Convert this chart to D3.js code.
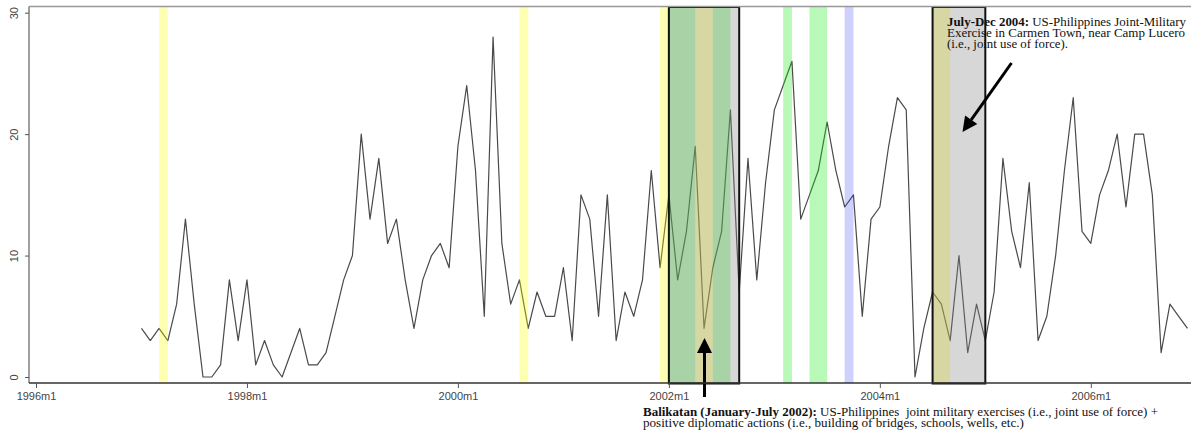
<!DOCTYPE html>
<html><head><meta charset="utf-8">
<script src="https://cdn.jsdelivr.net/npm/d3@7/dist/d3.min.js"></script>
<style>
html,body{margin:0;padding:0;background:#fff;}
svg{display:block;}
text{white-space:pre;}
</style></head>
<body>
<svg id="chart" width="1191" height="434"></svg>
<script>
// ---------- data ----------
const startMonth = "1997m1";
const counts = [
  4,3,4,3,6,13,6,0,0,1,8,3,            // 1997
  8,1,3,1,0,2,4,1,1,2,5,8,             // 1998
  10,20,13,18,11,13,8,4,8,10,11,9,     // 1999
  19,24,17,5,28,11,6,8,4,7,5,5,        // 2000
  9,3,15,13,5,15,3,7,5,8,17,9,         // 2001
  15,8,12,19,4,9,12,22,7,18,8,16,      // 2002
  22,24,26,13,15,17,21,17,14,15,5,13,  // 2003
  14,19,23,22,0,4,7,6,3,10,2,6,        // 2004
  3,7,18,12,9,16,3,5,10,17,23,12,      // 2005
  11,15,17,20,14,20,20,15,2,6,5,4      // 2006
];
const xTickLabels = ["1996m1","1998m1","2000m1","2002m1","2004m1","2006m1"];
const yTickValues = [0,10,20,30];
const yellowBands = ["1997m3","2000m8","2001m12","2002m4","2002m5","2004m7","2004m8"];
const greenBands  = ["2002m1","2002m2","2002m3","2002m6","2002m7","2003m2","2003m5","2003m6"];
const blueBands   = ["2003m9"];
const boxStarts   = ["2002m1","2004m7"];
const boxEnds     = ["2002m8","2004m12"];
const noteTop = [
  ["July-Dec 2004:", " US-Philippines Joint-Military"],
  ["", "Exercise in Carmen Town, near Camp Lucero"],
  ["", "(i.e., joint use of force)."]
];
const noteBottom = [
  ["Balikatan (January-July 2002):", " US-Philippines  joint military exercises (i.e., joint use of force) +"],
  ["", "positive diplomatic actions (i.e., building of bridges, schools, wells, etc.)"]
];

// ---------- helpers ----------
function monthIndex(s){ const [y,m] = s.split("m").map(Number); return (y-1996)*12 + (m-1); }
const t0 = monthIndex(startMonth);
const series = counts.map((v,i)=>({t:t0+i, v}));

const svg = d3.select("#chart");
const frame = {left:29, right:1196, top:6.5, bottom:383};
const x = d3.scaleLinear().domain([0,120]).range([36, 1090.8]);
const y = d3.scaleLinear().domain([0,30]).range([377, 12.7]);

// ---------- line ----------
svg.append("path").datum(series)
  .attr("fill","none").attr("stroke","#4a4a4a").attr("stroke-width",1.2)
  .attr("stroke-linejoin","round")
  .attr("d", d3.line().x(d=>x(d.t)).y(d=>y(d.v)));

// ---------- bands ----------
function bands(list, color){
  svg.append("g").selectAll("rect").data(list).join("rect")
    .attr("x", d=>x(monthIndex(d)))
    .attr("width", d=>x(monthIndex(d)+1)-x(monthIndex(d)))
    .attr("y", frame.top).attr("height", frame.bottom-frame.top)
    .attr("fill", color);
}
bands(yellowBands, "rgba(255,255,0,0.3)");
bands(greenBands, "rgba(20,235,20,0.3)");
bands(blueBands, "rgba(40,40,255,0.22)");

const boxes = boxStarts.map((s,i)=>({a:monthIndex(s), b:monthIndex(boxEnds[i])+1}));
svg.append("g").selectAll("rect").data(boxes).join("rect")
  .attr("x", d=>x(d.a)).attr("width", d=>x(d.b)-x(d.a))
  .attr("y", frame.top+0.5).attr("height", frame.bottom-frame.top)
  .attr("fill","rgba(135,135,135,0.33)");

// ---------- annotations ----------
const serif = "'Liberation Serif','Times New Roman',serif";
function note(lines, x0, ys, widths){
  lines.forEach((ln,i)=>{
    const t = svg.append("text").attr("x",x0).attr("y",ys[i])
      .attr("font-family",serif).attr("font-size",11.5).attr("fill","#111")
      .attr("textLength", widths[i]).attr("lengthAdjust","spacingAndGlyphs");
    if (ln[0]) t.append("tspan").attr("font-weight","bold").text(ln[0]);
    t.append("tspan").text(ln[1]);
  });
}
note(noteTop, 947, [26, 37, 47.5], [239, 238, 121]);
note(noteBottom, 643, [415.5, 426.5], [515, 381]);

// box borders (drawn over text like reference)
svg.append("g").selectAll("rect").data(boxes).join("rect")
  .attr("x", d=>x(d.a)).attr("width", d=>x(d.b)-x(d.a))
  .attr("y", frame.top+0.5).attr("height", frame.bottom-frame.top)
  .attr("fill","none").attr("stroke","#111").attr("stroke-width",2);

// arrows
function arrow(x1,y1,x2,y2){
  const ang = Math.atan2(y2-y1, x2-x1), L=15, W=7.5;
  const bx = x2 - L*Math.cos(ang), by = y2 - L*Math.sin(ang);
  svg.append("line").attr("x1",x1).attr("y1",y1).attr("x2",bx).attr("y2",by)
    .attr("stroke","#000").attr("stroke-width",3);
  const px = -Math.sin(ang), py = Math.cos(ang);
  svg.append("path").attr("fill","#000")
    .attr("d",`M${x2},${y2}L${bx+W*px},${by+W*py}L${bx-W*px},${by-W*py}Z`);
}
arrow(704.5, 397, 704.5, 338);
arrow(1011.5, 63, 962.5, 132);

// ---------- frame & axes ----------
svg.append("line").attr("x1",frame.left).attr("x2",frame.right).attr("y1",frame.top).attr("y2",frame.top)
  .attr("stroke","#999").attr("stroke-width",1.5);
svg.append("line").attr("x1",frame.left).attr("x2",frame.left).attr("y1",frame.top).attr("y2",frame.bottom)
  .attr("stroke","#808080").attr("stroke-width",1.5);
svg.append("line").attr("x1",frame.left).attr("x2",frame.right).attr("y1",frame.bottom).attr("y2",frame.bottom)
  .attr("stroke","#333").attr("stroke-width",1.5);

const sans = "'Liberation Sans',Arial,sans-serif";
const xAxis = d3.axisBottom(x).tickValues(xTickLabels.map(monthIndex))
  .tickFormat((d,i)=>xTickLabels[i]).tickSize(5).tickPadding(4);
const gx = svg.append("g").attr("transform",`translate(0,${frame.bottom})`).call(xAxis);
gx.select(".domain").remove();
gx.selectAll("line").attr("stroke","#555");
gx.selectAll("text").attr("font-family",sans).attr("font-size",11).attr("fill","#444");

const yAxis = d3.axisLeft(y).tickValues(yTickValues).tickSize(4).tickPadding(3);
const gy = svg.append("g").attr("transform",`translate(${frame.left},0)`).call(yAxis);
gy.select(".domain").remove();
gy.selectAll("line").attr("stroke","#555");
gy.selectAll("text").attr("font-family",sans).attr("font-size",11).attr("fill","#444")
  .attr("text-anchor","middle").attr("dy",0).attr("x",0).attr("y",0)
  .attr("transform","translate(-11,0) rotate(-90)");
</script>
</body></html>
